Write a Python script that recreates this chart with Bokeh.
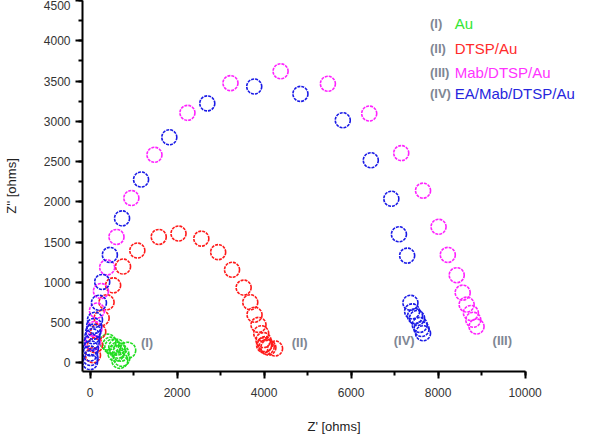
from bokeh.plotting import figure
from bokeh.models import Range1d, SingleIntervalTicker, Label, ColumnDataSource
from bokeh.embed import file_html
from bokeh.resources import INLINE

# ---- data (Z' , -Z'') in ohms ----
au_zre = [410, 478, 524, 615, 638, 706, 729, 683, 866, 592]
au_zim = [258, 220, 195, 195, 157, 120, 57, 31, 157, 120]

dtsp_zre = [68, 114, 189, 267, 380, 531, 759, 1087, 1579, 2034, 2558, 2945, 3264,
            3531, 3683, 3781, 3872, 3934, 3986, 4025, 4061, 4000, 4100, 4253]
dtsp_zim = [94, 220, 388, 557, 753, 963, 1196, 1395, 1564, 1606, 1543, 1375, 1156,
            935, 753, 598, 472, 368, 283, 233, 199, 220, 190, 179]

mab_zre = [60, 100, 160, 251, 394, 608, 950, 1481, 2239, 3228, 4380, 5467, 6417,
           7153, 7654, 8011, 8223, 8428, 8565, 8656, 8754, 8809, 8884]
mab_zim = [250, 420, 650, 892, 1186, 1564, 2047, 2584, 3105, 3474, 3621, 3466, 3096,
           2605, 2139, 1690, 1341, 1089, 872, 724, 620, 535, 451]

ea_zre = [0, 10, 0, 20, 39, 55, 75, 95, 114, 205, 280, 456, 736, 1173, 1822, 2695,
          3774, 4836, 5809, 6453, 6925, 7100, 7289, 7364, 7403, 7470, 7517, 7579, 7620, 7654]
ea_zim = [10, 60, 116, 180, 262, 330, 388, 460, 535, 746, 1005, 1341, 1795, 2277, 2802,
          3222, 3432, 3340, 3013, 2516, 2038, 1597, 1332, 746, 640, 580, 557, 472, 420, 368]

numerals = ["(I)", "(II)", "(III)", "(IV)"]
names = ["Au", "DTSP/Au", "Mab/DTSP/Au", "EA/Mab/DTSP/Au"]
colors = ["#22dd22", "#ff1a1a", "#ff22ff", "#1a1ae6"]
text_colors = ["#33e633", "#ff2a2a", "#ff33ff", "#2626dd"]

x_label = "Z' [ohms]"
y_label = "Z'' [ohms]"

FONT = "Liberation Sans"
X_AXIS_END = 10000

p = figure(width=585, height=436,
           x_range=Range1d(-173, 11388), y_range=Range1d(-107, 4500),
           output_backend="svg", toolbar_location=None,
           min_border_left=79, min_border_right=0,
           min_border_top=0, min_border_bottom=60)
p.grid.visible = False
p.outline_line_color = None
p.background_fill_color = "white"
p.border_fill_color = "white"

p.xaxis.ticker = SingleIntervalTicker(interval=2000, num_minor_ticks=2)
p.yaxis.ticker = SingleIntervalTicker(interval=500, num_minor_ticks=2)
p.xaxis.bounds = (-173, X_AXIS_END)

for ax in (p.xaxis, p.yaxis):
    ax.axis_line_width = 2
    ax.axis_line_color = "black"
    ax.major_tick_line_width = 2
    ax.minor_tick_line_width = 2
    ax.major_tick_line_color = "black"
    ax.minor_tick_line_color = "black"
    ax.major_tick_in = 0
    ax.major_tick_out = 7
    ax.minor_tick_in = 0
    ax.minor_tick_out = 4
    ax.major_label_text_font = FONT
    ax.major_label_text_font_size = "12px"
    ax.major_label_text_color = "#333333"
    ax.axis_label_text_font = FONT
    ax.axis_label_text_font_size = "13px"
    ax.axis_label_text_font_style = "normal"
    ax.axis_label_text_color = "#222222"

p.xaxis.axis_label = x_label
p.yaxis.axis_label = y_label
p.xaxis.major_label_standoff = 9
p.yaxis.major_label_standoff = 5
p.xaxis.axis_label_standoff = 19
p.yaxis.axis_label_standoff = 22

series = [(au_zre, au_zim, 16), (dtsp_zre, dtsp_zim, 15),
          (mab_zre, mab_zim, 15), (ea_zre, ea_zim, 15)]
for (xs, ys, sz), c in zip(series, colors):
    src = ColumnDataSource(dict(x=xs, y=ys))
    p.scatter("x", "y", source=src, marker="circle", size=sz,
              fill_color=None, line_color=c, line_width=1.6, line_dash="3 1")

# legend text (no glyphs in the reference)
leg_y = [4215, 3900, 3610, 3345]
for num, name, tc, yy in zip(numerals, names, text_colors, leg_y):
    p.add_layout(Label(x=7813, y=yy, text=num, text_font=FONT, text_font_size="13px",
                       text_font_style="bold", text_color="#7f8794",
                       text_baseline="middle", text_align="left"))
    p.add_layout(Label(x=8383, y=yy, text=name, text_font=FONT, text_font_size="15px",
                       text_color=tc, text_baseline="middle", text_align="left"))

# curve annotations
ann_x = [1310, 4818, 9476, 7221]
ann_y = [258, 258, 283, 283]
for num, xx, yy in zip(numerals, ann_x, ann_y):
    p.add_layout(Label(x=xx, y=yy, text=num, text_font=FONT, text_font_size="13px",
                       text_font_style="bold", text_color="#7f8794",
                       text_baseline="middle", text_align="center"))

open("out.html", "w").write(file_html(p, INLINE))
